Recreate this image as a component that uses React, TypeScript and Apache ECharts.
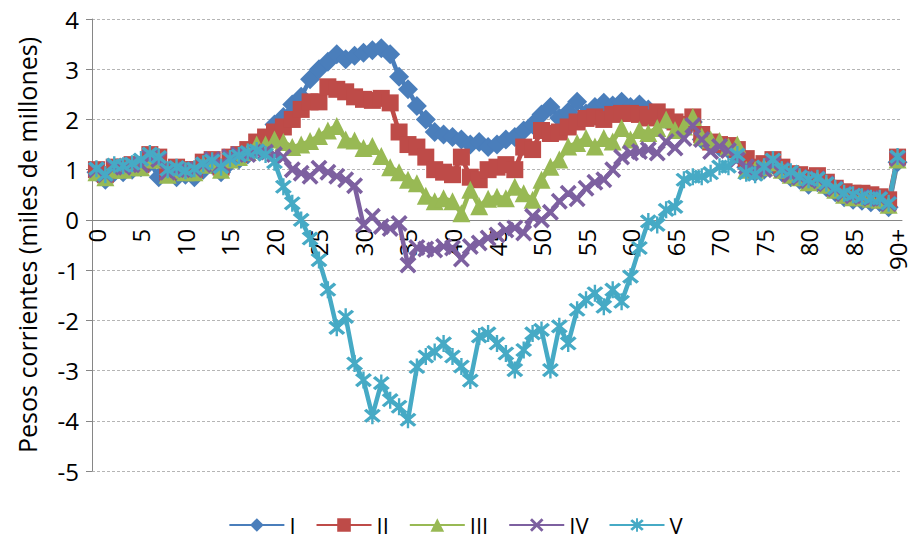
import React, { useEffect, useRef } from 'react';
import * as echarts from 'echarts';

const FONT = '"Open Sans", "Noto Sans", sans-serif';

const ages = [
  '0','1','2','3','4','5','6','7','8','9','10','11','12','13','14','15','16','17','18','19',
  '20','21','22','23','24','25','26','27','28','29','30','31','32','33','34','35','36','37','38','39',
  '40','41','42','43','44','45','46','47','48','49','50','51','52','53','54','55','56','57','58','59',
  '60','61','62','63','64','65','66','67','68','69','70','71','72','73','74','75','76','77','78','79',
  '80','81','82','83','84','85','86','87','88','89','90+',
];

const seriesNames = ['I', 'II', 'III', 'IV', 'V'];

const serieI = [
  0.95, 0.8, 0.95, 0.95, 1.0, 1.05, 1.15, 0.85, 0.95, 0.85,
  0.9, 0.85, 1.0, 1.1, 0.95, 1.15, 1.2, 1.3, 1.45, 1.6,
  1.9, 2.05, 2.3, 2.45, 2.8, 3.0, 3.15, 3.3, 3.2, 3.27,
  3.33, 3.38, 3.42, 3.3, 2.85, 2.6, 2.27, 2.0, 1.75, 1.7,
  1.65, 1.6, 1.5, 1.55, 1.45, 1.5, 1.6, 1.65, 1.78, 1.9,
  2.1, 2.25, 2.03, 2.15, 2.35, 2.12, 2.25, 2.33, 2.28, 2.35,
  2.25, 2.3, 2.2, 2.1, 2.0, 1.9, 1.8, 1.95, 1.6, 1.5,
  1.45, 1.4, 1.3, 1.05, 0.95, 1.0, 1.1, 0.95, 0.85, 0.8,
  0.7, 0.75, 0.65, 0.55, 0.45, 0.4, 0.38, 0.35, 0.35, 0.25,
  1.15,
];

const serieII = [
  1.0, 0.9, 1.05, 1.05, 1.1, 1.1, 1.3, 1.25, 0.95, 1.05,
  1.0, 1.0, 1.15, 1.2, 1.05, 1.25, 1.3, 1.4, 1.55, 1.65,
  1.75, 1.85, 2.0, 2.2, 2.35, 2.35, 2.65, 2.6, 2.55, 2.45,
  2.4, 2.38, 2.42, 2.33, 1.75, 1.5, 1.45, 1.25, 1.0, 0.95,
  0.9, 1.25, 0.85, 0.8, 1.0, 1.05, 1.1, 1.0, 1.45, 1.4,
  1.78, 1.72, 1.75, 1.85, 1.95, 2.02, 2.05, 2.0, 2.1, 2.12,
  2.12, 2.1, 2.03, 2.15, 2.05, 1.95, 1.9, 2.05, 1.7, 1.55,
  1.5, 1.48, 1.4, 1.22, 1.05, 1.12, 1.2, 1.05, 0.92, 0.9,
  0.83, 0.88, 0.75, 0.63, 0.56, 0.53, 0.53, 0.5, 0.46, 0.4,
  1.25,
];

const serieIII = [
  0.95, 0.85, 1.0, 1.0, 1.05, 1.05, 1.2, 1.2, 0.9, 1.0,
  0.95, 0.95, 1.1, 1.15, 1.0, 1.2, 1.25, 1.35, 1.5, 1.5,
  1.6, 1.55, 1.45, 1.5, 1.57, 1.67, 1.78, 1.87, 1.6, 1.58,
  1.43, 1.47, 1.27, 1.05, 0.95, 0.8, 0.73, 0.48, 0.37, 0.43,
  0.37, 0.13, 0.6, 0.27, 0.42, 0.46, 0.43, 0.66, 0.53, 0.4,
  0.8, 1.06, 1.2, 1.46, 1.53, 1.63, 1.46, 1.63, 1.56, 1.83,
  1.6, 1.79, 1.73, 1.83, 2.0, 1.79, 1.86, 2.05, 1.66, 1.6,
  1.57, 1.46, 1.5, 1.0, 1.0, 1.05, 1.15, 1.0, 0.9, 0.85,
  0.75, 0.8, 0.7, 0.6, 0.5, 0.45, 0.45, 0.42, 0.4, 0.3,
  1.2,
];

const serieIV = [
  1.0, 0.9, 1.05, 1.05, 1.1, 1.1, 1.25, 1.2, 0.95, 1.0,
  1.0, 1.0, 1.1, 1.2, 1.1, 1.25, 1.3, 1.3, 1.35, 1.35,
  1.3, 1.25, 1.0, 0.93, 0.87, 1.03, 0.95, 0.87, 0.8, 0.68,
  -0.1, 0.07, -0.13, -0.17, -0.07, -0.9, -0.55, -0.58, -0.6, -0.53,
  -0.56, -0.78, -0.53, -0.46, -0.36, -0.3, -0.2, -0.16, -0.26, 0.07,
  0.0, 0.15, 0.37, 0.53, 0.42, 0.63, 0.75, 0.8, 1.0, 1.25,
  1.33, 1.36, 1.4, 1.33, 1.56, 1.43, 1.62, 1.88, 1.6, 1.36,
  1.46, 1.38, 1.2, 1.06, 1.0, 1.0, 1.1, 1.0, 0.9, 0.85,
  0.78, 0.82, 0.72, 0.62, 0.52, 0.48, 0.46, 0.43, 0.42, 0.32,
  1.22,
];

const serieV = [
  1.02, 0.9, 1.1, 1.08, 1.12, 1.2, 1.32, 1.25, 1.0, 1.05,
  0.98, 1.02, 1.12, 1.18, 1.05, 1.22, 1.28, 1.35, 1.38, 1.3,
  1.15, 0.66, 0.33, 0.0, -0.37, -0.8, -1.39, -2.15, -1.93, -2.86,
  -3.19, -3.9, -3.25, -3.59, -3.72, -3.98, -2.93, -2.72, -2.63, -2.46,
  -2.72, -2.92, -3.2, -2.32, -2.26, -2.46, -2.66, -2.99, -2.59, -2.26,
  -2.19, -2.99, -2.12, -2.46, -1.79, -1.59, -1.46, -1.73, -1.39, -1.63,
  -1.13, -0.56, -0.03, -0.1, 0.2, 0.26, 0.8, 0.86, 0.86, 0.93,
  1.06, 1.06, 1.3, 0.93, 0.9, 1.06, 1.2, 1.0, 0.96, 0.86,
  0.8, 0.83, 0.73, 0.63, 0.53, 0.5, 0.46, 0.43, 0.43, 0.33,
  1.26,
];

const yTicks = { min: -5, max: 4, interval: 1 };

const colors = ['#4A7EBB', '#BE4B48', '#98B954', '#7D60A0', '#46AAC5'];

const X_PATH = 'path://M1.5,0 L5,3.5 L8.5,0 L10,1.5 L6.5,5 L10,8.5 L8.5,10 L5,6.5 L1.5,10 L0,8.5 L3.5,5 L0,1.5 Z';
const STAR_PATH = 'path://M1.5,0 L5,3.5 L8.5,0 L10,1.5 L6.5,5 L10,8.5 L8.5,10 L5,6.5 L1.5,10 L0,8.5 L3.5,5 L0,1.5 Z M4.3,-1 L5.7,-1 L5.7,11 L4.3,11 Z';

const symbols = ['diamond', 'rect', 'triangle', X_PATH, STAR_PATH];
const symbolSizes = [20, 17, 18, 17, 17];

const GRID = { left: 92, right: 9, top: 19, bottom: 66 };
const CHART_H = 537;

export default function App() {
  const ref = useRef<HTMLDivElement>(null);
  useEffect(() => {
    if (!ref.current) return;
    const chart = echarts.init(ref.current, undefined, { renderer: 'svg' });
    const datasets = [serieI, serieII, serieIII, serieIV, serieV];
    const plotH = CHART_H - GRID.top - GRID.bottom;
    const zeroFromBottom = (plotH * (0 - yTicks.min)) / (yTicks.max - yTicks.min);
    chart.setOption({
      animation: false,
      textStyle: { fontFamily: FONT },
      grid: GRID,
      legend: {
        data: seriesNames,
        left: 'center',
        top: 509,
        itemWidth: 55,
        itemHeight: 17,
        itemGap: 20,
        textStyle: { fontSize: 22, color: '#000', fontFamily: FONT },
      },
      xAxis: {
        type: 'category',
        data: ages,
        boundaryGap: true,
        offset: -zeroFromBottom,
        axisLine: { onZero: false, lineStyle: { color: '#868686', width: 1 } },
        axisTick: { interval: 4, length: 6, lineStyle: { color: '#868686' } },
        axisLabel: { interval: 4, rotate: 90, fontSize: 24, color: '#000', margin: 9, fontFamily: FONT },
        splitLine: { show: false },
      },
      yAxis: {
        type: 'value',
        min: yTicks.min,
        max: yTicks.max,
        interval: yTicks.interval,
        name: 'Pesos corrientes (miles de millones)',
        nameLocation: 'middle',
        nameRotate: 90,
        nameGap: 53,
        nameTextStyle: { fontSize: 25, color: '#000', fontFamily: FONT },
        axisLine: { show: true, lineStyle: { color: '#868686', width: 1 } },
        axisTick: { show: true, length: 6, lineStyle: { color: '#868686' } },
        axisLabel: { fontSize: 24, color: '#000', margin: 13, fontFamily: FONT },
        splitLine: { lineStyle: { color: '#B5B5B5', type: [3, 2], width: 1 } },
      },
      series: datasets.map((d, i) => ({
        name: seriesNames[i],
        type: 'line',
        data: d,
        symbol: symbols[i],
        symbolSize: symbolSizes[i],
        showAllSymbol: true,
        color: colors[i],
        itemStyle: { color: colors[i] },
        lineStyle: { color: colors[i], width: 4.5 },
        emphasis: { disabled: true },
      })),
    });
    return () => chart.dispose();
  }, []);
  return <div ref={ref} style={{ width: 911, height: 537, position: 'absolute', left: 0, top: 0 }} />;
}
